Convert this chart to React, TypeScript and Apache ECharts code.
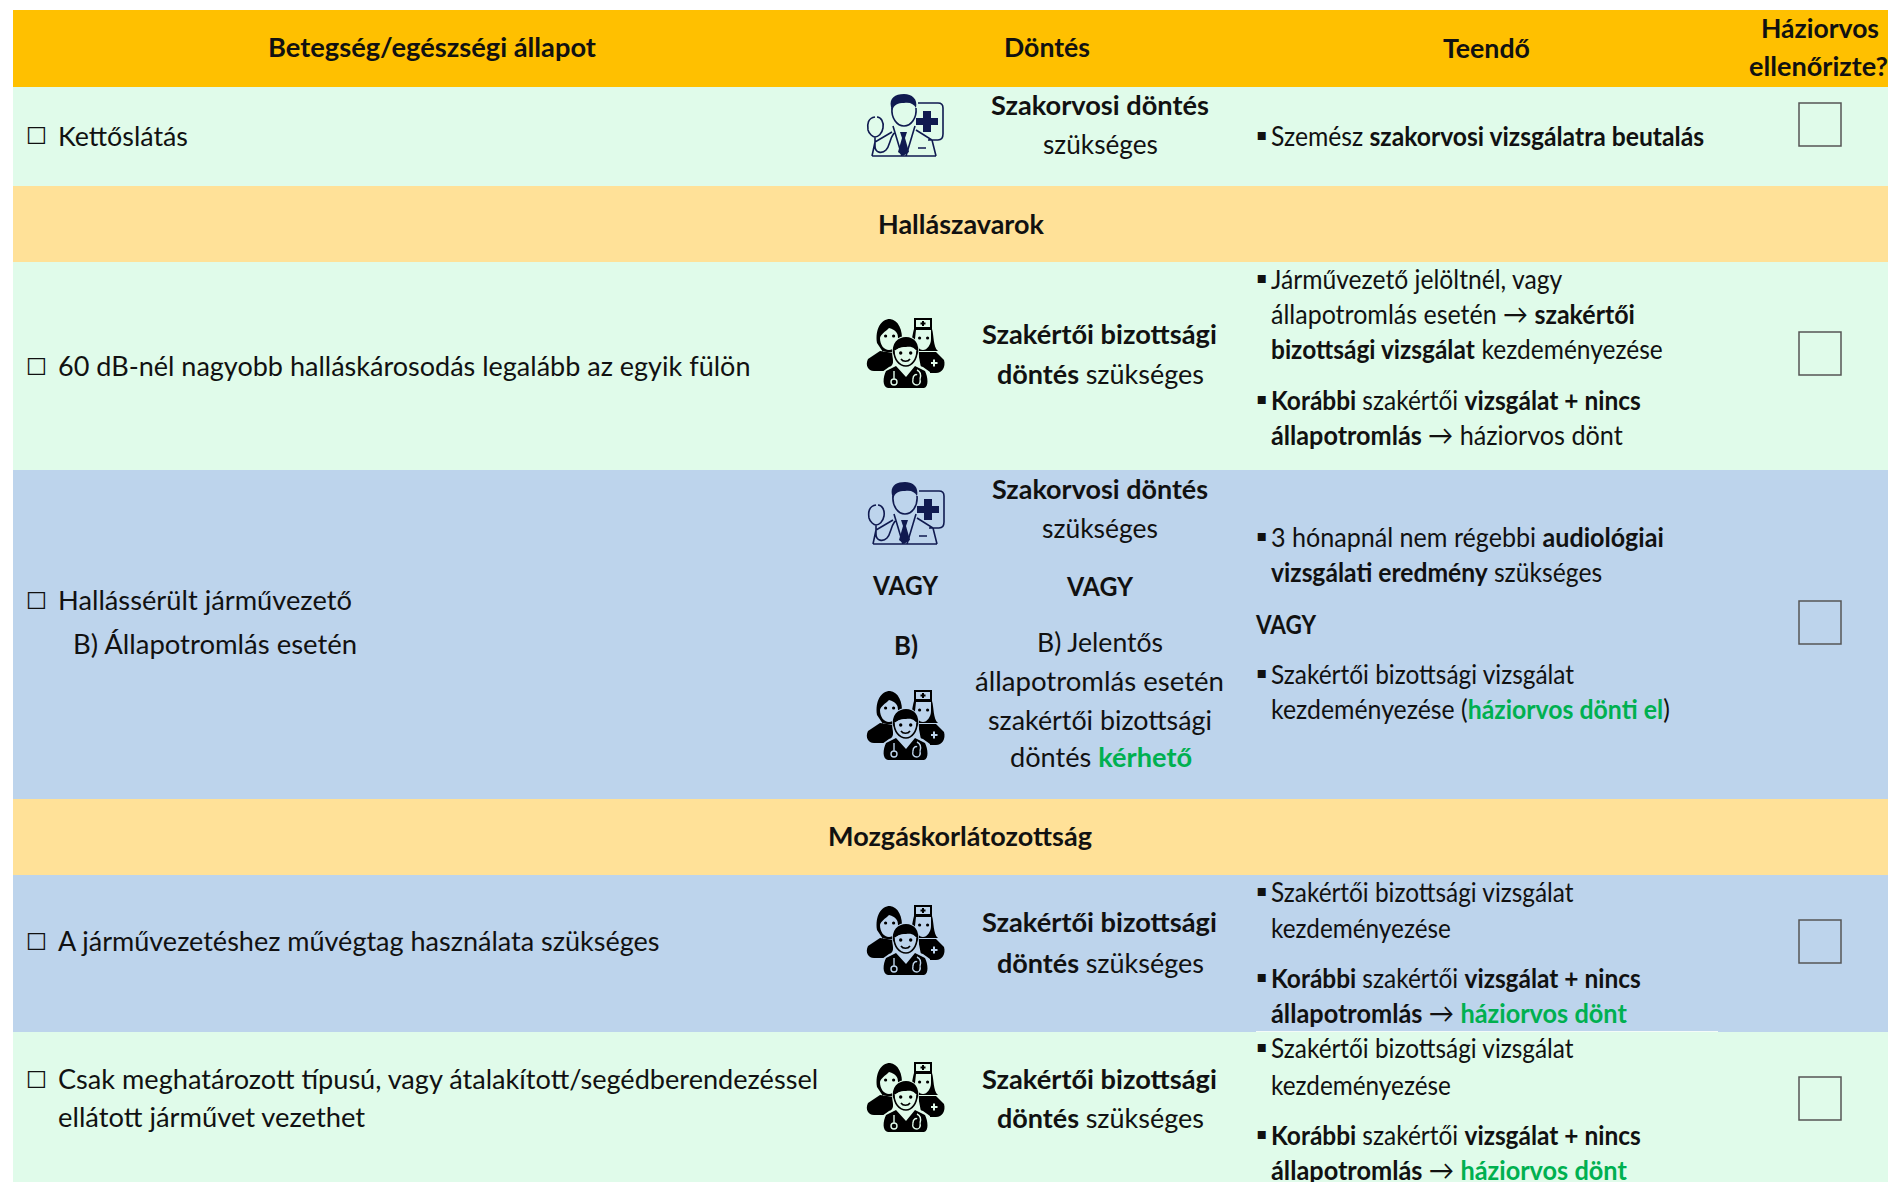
import React, { useEffect, useRef } from "react";
import * as echarts from "echarts";

type Run = [string, "n" | "b" | "g"];

// ---------- content ----------
const headerLabels = ["Betegség/egészségi állapot", "Döntés", "Teendő", "Háziorvos", "ellenőrizte?"];
const sectionTitles = ["Hallászavarok", "Mozgáskorlátozottság"];
const conditionLines = [
  "Kettőslátás",
  "60 dB-nél nagyobb halláskárosodás legalább az egyik fülön",
  "Hallássérült járművezető",
  "B) Állapotromlás esetén",
  "A járművezetéshez művégtag használata szükséges",
  "Csak meghatározott típusú, vagy átalakított/segédberendezéssel",
  "ellátott járművet vezethet",
];
const iconColumnLabels = ["VAGY", "B)"];
const decisionLines: Run[][] = [
  [["Szakorvosi döntés", "b"]],
  [["szükséges", "n"]],
  [["Szakértői bizottsági", "b"]],
  [["döntés ", "b"], ["szükséges", "n"]],
  [["Szakorvosi döntés", "b"]],
  [["szükséges", "n"]],
  [["VAGY", "b"]],
  [["B) Jelentős", "n"]],
  [["állapotromlás esetén", "n"]],
  [["szakértői bizottsági", "n"]],
  [["döntés ", "n"], ["kérhető", "g"]],
  [["Szakértői bizottsági", "b"]],
  [["döntés ", "b"], ["szükséges", "n"]],
  [["Szakértői bizottsági", "b"]],
  [["döntés ", "b"], ["szükséges", "n"]],
];
const actionLines: Run[][] = [
  [["Szemész ", "n"], ["szakorvosi vizsgálatra beutalás", "b"]],
  [["Járművezető jelöltnél, vagy", "n"]],
  [["állapotromlás esetén → ", "n"], ["szakértői", "b"]],
  [["bizottsági vizsgálat ", "b"], ["kezdeményezése", "n"]],
  [["Korábbi ", "b"], ["szakértői ", "n"], ["vizsgálat + nincs", "b"]],
  [["állapotromlás ", "b"], ["→ háziorvos dönt", "n"]],
  [["3 hónapnál nem régebbi ", "n"], ["audiológiai", "b"]],
  [["vizsgálati eredmény ", "b"], ["szükséges", "n"]],
  [["VAGY", "b"]],
  [["Szakértői bizottsági vizsgálat", "n"]],
  [["kezdeményezése (", "n"], ["háziorvos dönti el", "g"], [")", "n"]],
  [["Szakértői bizottsági vizsgálat", "n"]],
  [["kezdeményezése", "n"]],
  [["Korábbi ", "b"], ["szakértői ", "n"], ["vizsgálat + nincs", "b"]],
  [["állapotromlás ", "b"], ["→ ", "n"], ["háziorvos dönt", "g"]],
  [["Szakértői bizottsági vizsgálat", "n"]],
  [["kezdeményezése", "n"]],
  [["Korábbi ", "b"], ["szakértői ", "n"], ["vizsgálat + nincs", "b"]],
  [["állapotromlás ", "b"], ["→ ", "n"], ["háziorvos dönt", "g"]],
];

// ---------- layout: [left, right, centre y] ----------
const headerBoxes = [[268, 596, 47], [1004, 1090, 47], [1443, 1530, 47], [1761, 1879, 28], [1749, 1888, 66]];
const sectionBoxes = [[878, 1044, 223], [828, 1092, 836]];
const conditionBoxes = [
  [58, 188, 135], [58, 751, 366], [58, 352, 600], [73, 358, 644], [58, 661, 941], [58, 820, 1079], [58, 366, 1117],
];
const checkGlyphBoxes = [[26, 47, 136], [26, 47, 367], [26, 47, 601], [26, 47, 942], [26, 47, 1080]];
const iconColumnBoxes = [[873, 938, 585], [894, 918, 645]];
const decisionBoxes = [
  [991, 1209, 105], [1043, 1158, 144], [982, 1217, 334], [997, 1204, 373], [992, 1208, 488], [1042, 1158, 528],
  [1067, 1133, 586], [1037, 1164, 642], [975, 1224, 681], [988, 1212, 719], [1010, 1192, 757],
  [982, 1217, 922], [997, 1204, 962], [982, 1217, 1079], [997, 1204, 1117],
];
const actionBoxes = [
  [1271, 1705, 136], [1271, 1563, 279], [1271, 1635, 314], [1271, 1663, 349], [1271, 1641, 400], [1271, 1623, 435],
  [1271, 1664, 537], [1271, 1602, 572], [1256, 1316, 623], [1271, 1575, 674], [1271, 1670, 709],
  [1271, 1574, 892], [1271, 1451, 927], [1271, 1641, 978], [1271, 1627, 1013],
  [1271, 1574, 1048], [1271, 1451, 1084], [1271, 1641, 1135], [1271, 1627, 1170],
];
const bulletYs = [136, 279, 400, 537, 674, 892, 978, 1048, 1135];
const bands: [number, number, string][] = [
  [10, 87, "#FFC000"], [87, 186, "#E0FBEA"], [186, 262, "#FFE198"], [262, 470, "#E0FBEA"],
  [470, 799, "#BDD4EC"], [799, 875, "#FFE198"], [875, 1032, "#BDD4EC"], [1032, 1182, "#E0FBEA"],
];
const tickBoxes = [103, 332, 601, 920, 1077];
const doctorIcons = [[840, 80, "#E0FBEA"], [841, 468, "#BDD4EC"]];
const teamIcons = [[850, 305, "#E0FBEA"], [850, 677, "#BDD4EC"], [850, 892, "#BDD4EC"], [850, 1049, "#E0FBEA"]];

// ---------- icon outlines ----------
const SHAPES: Record<string, string> = {
  docFill:
    "M51 27 C49 18 55 14 64 14 C72 14 78 19 76 28 C74 24 70 22 64 23 C58 23 54 24 52 31 Z " +
    "M83 31 H91 V38 H98 V45 H91 V52 H83 V45 H76 V38 H83 Z " +
    "M60 52 H67 L65 58 L69 72 L63 76 L58 72 L62 58 Z",
  docLine:
    "M52 28 C51 38 57 46 64 46 C71 46 77 38 76 28 " +
    "M78 23 H98 Q103 23 103 28 V54 Q103 60 98 60 H88 " +
    "M35 37 C28 38 27 44 28 50 C29 54 33 57 35 57 C38 57 42 54 43 48 C44 42 41 37 37 37 " +
    "M35 57 V66 C35 73 42 74 46 70 C50 66 49 60 54 53 " +
    "M32 76 H96 M32 76 L35 62 L52 52 M96 76 L92 60 L76 50 M53 46 L62 76 M75 46 L66 76 M78 68 H86",
  teamBack:
    "M27 38 C25 24 31 14 40 14 C48 15 53 24 52 38 L47 47 L33 47 Z " +
    "M30 46 L18 54 C15 60 18 66 24 66 H42 L44 48 Z " +
    "M64 24 C62 30 62 40 58 46 H88 C83 42 84 30 82 24 Z " +
    "M68 47 H86 L94 55 C96 62 92 68 86 68 H72 Z " +
    "M64 13 H82 V24 H64 Z",
  teamBackHoles:
    "M39 23 C46 25 48 28 48 33 C48 40 44 45 39 45 C34 45 30 40 30 33 C31 29 35 27 39 23 Z " +
    "M66 25 H81 V34 C81 40 77 45 73 45 C69 45 65 40 65 34 Z " +
    "M66 15 H80 V22 H66 Z " +
    "M81 57 H83 V54.5 H85 V57 H87.5 V59 H85 V61.5 H83 V59 H81 Z",
  teamBackMarks:
    "M72 16 H74 V17.5 H75.5 V19.5 H74 V21 H72 V19.5 H70.5 V17.5 H72 Z " +
    "M34 31 a1.6 1.6 0 1 0 3.2 0 a1.6 1.6 0 1 0 -3.2 0 Z M42 31 a1.6 1.6 0 1 0 3.2 0 a1.6 1.6 0 1 0 -3.2 0 Z " +
    "M68 33 a1.6 1.6 0 1 0 3.2 0 a1.6 1.6 0 1 0 -3.2 0 Z M76 33 a1.6 1.6 0 1 0 3.2 0 a1.6 1.6 0 1 0 -3.2 0 Z",
  teamHalo:
    "M42 48 C41 37 48 31 56 31 C64 31 70 37 69 48 C69 56 66 60 73 62 L80 67 L80 85 H32 L32 67 L39 62 C45 60 43 56 42 48 Z",
  teamFront:
    "M43 50 C41 38 48 32 56 32 C64 32 70 38 68 50 C66 43 62 41 56 42 C50 42 46 43 43 50 Z " +
    "M46 61 L36 66 C33 72 32 82 38 83 H74 C79 82 78 72 75 66 L65 61 L56 72 Z",
  teamFace: "M44 46 C48 43 52 42 56 43 C60 42 64 43 67 46 C67 54 62 61 56 61 C49 61 44 54 44 46 Z",
  teamFaceLine:
    "M44 46 C44 54 49 61 56 61 C62 61 67 54 67 46 M51 54 C53 57 58 57 60 54",
  teamFaceEyes:
    "M49 48 a1.7 1.7 0 1 0 3.4 0 a1.7 1.7 0 1 0 -3.4 0 Z M59 48 a1.7 1.7 0 1 0 3.4 0 a1.7 1.7 0 1 0 -3.4 0 Z",
  teamScope:
    "M44 66 V74 M41 77 a3 3 0 1 0 6 0 a3 3 0 1 0 -6 0 M67 65 C71 67 71 71 70 74 M63 74 C63 70 66 69 67 70 M70 74 C71 78 69 80 67 80 C64 80 62 78 63 74",
};
Object.keys(SHAPES).forEach((k) =>
  echarts.graphic.registerShape(k, echarts.graphic.extendPath(SHAPES[k], {}))
);

// ---------- text helpers ----------
const FONT = "Lato, 'DejaVu Sans', sans-serif";
const TEXT_SIZE = 27;
const INK = "#111111";
const GREEN = "#00B050";
const ctx = document.createElement("canvas").getContext("2d") as CanvasRenderingContext2D;

function widthOf(runs: Run[], size: number) {
  let w = 0;
  runs.forEach(([t, s]) => {
    ctx.font = `${s === "n" ? "normal" : "bold"} ${size}px ${FONT}`;
    w += ctx.measureText(t).width;
  });
  return w;
}

function line(runs: Run[], box: number[], size = TEXT_SIZE) {
  const [x0, x1, y] = box;
  const mk = (weight: string, fill: string) => ({ fontFamily: FONT, fontSize: size, fontWeight: weight, fill });
  return {
    type: "text",
    x: x0,
    y,
    scaleX: (x1 - x0) / widthOf(runs, size),
    style: {
      text: runs.map(([t, s]) => `{${s}|${t}}`).join(""),
      align: "left",
      verticalAlign: "middle",
      rich: { n: mk("normal", INK), b: mk("bold", INK), g: mk("bold", GREEN) },
    },
  };
}

function glyph(text: string, x: number, y: number, size: number, scaleX = 1) {
  return {
    type: "text",
    x,
    y,
    scaleX,
    style: { text, fontFamily: "'DejaVu Sans'", fontSize: size, fill: "#111111", align: "center", verticalAlign: "middle" },
  };
}

function buildElements() {
  const els: any[] = [];
  bands.forEach(([y0, y1, fill]) =>
    els.push({ type: "rect", shape: { x: 13, y: y0, width: 1875, height: y1 - y0 }, style: { fill } })
  );
  els.push({ type: "rect", shape: { x: 1256, y: 1031, width: 462, height: 1 }, style: { fill: "#F4FBF8" } });

  headerLabels.forEach((t, i) => els.push(line([[t, "b"]], headerBoxes[i])));
  sectionTitles.forEach((t, i) => els.push(line([[t, "b"]], sectionBoxes[i])));
  conditionLines.forEach((t, i) => els.push(line([[t, "n"]], conditionBoxes[i])));
  checkGlyphBoxes.forEach(([x0, x1, y]) => els.push(glyph("☐", (x0 + x1) / 2, y, 23, 1.05)));
  iconColumnLabels.forEach((t, i) => els.push(line([[t, "b"]], iconColumnBoxes[i])));
  decisionLines.forEach((r, i) => els.push(line(r, decisionBoxes[i])));
  actionLines.forEach((r, i) => els.push(line(r, actionBoxes[i])));
  bulletYs.forEach((y) => els.push(glyph("▪", 1262, y - 2, 16)));

  tickBoxes.forEach((y) =>
    els.push({
      type: "rect",
      shape: { x: 1799, y, width: 42, height: 43 },
      style: { fill: "transparent", stroke: "#555555", lineWidth: 1.5 },
    })
  );

  doctorIcons.forEach(([x, y]) => {
    els.push({ type: "docLine", x, y, style: { fill: "none", stroke: "#101A50", lineWidth: 1.6 } });
    els.push({ type: "docFill", x, y, style: { fill: "#101A50" } });
  });
  teamIcons.forEach(([x, y, bg]) => {
    const f = (type: string, fill: string) => els.push({ type, x, y, style: { fill } });
    const s = (type: string, stroke: string, lineWidth: number) =>
      els.push({ type, x, y, style: { fill: "none", stroke, lineWidth } });
    f("teamBack", "#000000");
    f("teamBackHoles", bg as string);
    f("teamBackMarks", "#000000");
    f("teamHalo", bg as string);
    f("teamFront", "#000000");
    f("teamFace", bg as string);
    s("teamFaceLine", "#000000", 1.6);
    f("teamFaceEyes", "#000000");
    s("teamScope", bg as string, 1.4);
  });
  return els;
}

export default function App() {
  const ref = useRef<HTMLDivElement>(null);
  useEffect(() => {
    if (!ref.current) return;
    const chart = echarts.init(ref.current, undefined, { renderer: "svg" });
    chart.setOption({ animation: false, backgroundColor: "#FFFFFF", graphic: { elements: buildElements() } });
    return () => chart.dispose();
  }, []);
  return <div ref={ref} style={{ position: "absolute", left: 0, top: 0, width: 1888, height: 1182 }} />;
}
